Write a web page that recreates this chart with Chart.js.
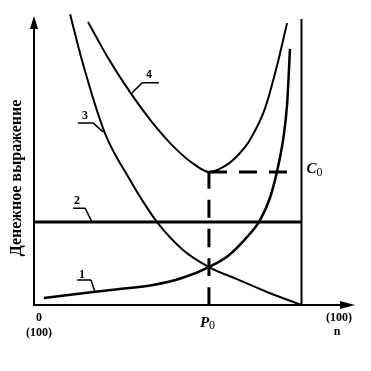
<!DOCTYPE html>
<html>
<head>
<meta charset="utf-8">
<script src="https://cdn.jsdelivr.net/npm/chart.js@4"></script>
<style>
  html, body { margin: 0; padding: 0; background: #fff; }
  #wrap { width: 371px; height: 371px; }
</style>
</head>
<body>
<div id="wrap"><canvas id="costChart" width="371" height="371"></canvas></div>
<script>
// curve values (x = quantity 0..100, y = money)
const curve1X = [3.7, 22.1, 32.1, 44.5, 55.3, 65.4, 72.5, 79.6, 84.5, 88.2, 90.8, 93.1, 94.6, 95.7];
const curve1Y = [2.4, 4.5, 5.5, 6.9, 9.3, 13.1, 16.9, 23.4, 29.3, 36.9, 45.9, 56.9, 69.0, 88.3];

const curve2X = [0, 100];
const curve2Y = [28.6, 28.6];

const curve3X = [13.5, 17.9, 26.5, 35.9, 40.4, 46.0, 55.7, 65.4, 75.9, 87.1, 100];
const curve3Y = [100.3, 84.5, 59.3, 43.1, 36.2, 28.6, 19.0, 13.1, 8.9, 4.5, 0];

const curve4X = [20.2, 27.7, 35.9, 44.1, 53.5, 60.2, 65.4, 72.5, 77.0, 80.7, 86.4, 91.2, 94.6];
const curve4Y = [97.6, 85.2, 73.4, 63.1, 53.4, 48.3, 45.9, 48.6, 52.4, 56.9, 67.9, 83.8, 97.2];

const limitX = 100;     // vertical line at full capacity
const limitTop = 98.6;
const p0 = 65.4;        // optimum quantity
const c0 = 45.9;        // minimal cost
const dashEndX = 97.6;

const yTitle = 'Денежное выражение';

const toPoints = (xs, ys) => xs.map((x, i) => ({ x: x, y: ys[i] }));

const lineStyle = (width) => ({
  showLine: true,
  borderColor: '#000',
  borderWidth: width,
  pointRadius: 0,
  fill: false,
  clip: false,
  cubicInterpolationMode: 'monotone'
});

// axes, arrows, labels
const schemePlugin = {
  id: 'scheme',
  afterDraw(chart) {
    const c = chart.ctx;
    const xs = chart.scales.x, ys = chart.scales.y;
    const a = chart.chartArea;
    const px = v => xs.getPixelForValue(v);
    const py = v => ys.getPixelForValue(v);
    c.save();
    c.strokeStyle = '#000';
    c.fillStyle = '#000';
    c.lineWidth = 2;
    // y axis
    c.beginPath();
    c.moveTo(a.left, a.bottom + 1);
    c.lineTo(a.left, a.top + 8);
    c.stroke();
    c.beginPath();
    c.moveTo(a.left, a.top + 1);
    c.lineTo(a.left - 4, a.top + 14);
    c.lineTo(a.left + 4, a.top + 14);
    c.closePath();
    c.fill();
    // x axis
    c.beginPath();
    c.moveTo(a.left - 1, a.bottom);
    c.lineTo(a.right - 8, a.bottom);
    c.stroke();
    c.beginPath();
    c.moveTo(a.right, a.bottom);
    c.lineTo(a.right - 15, a.bottom - 4);
    c.lineTo(a.right - 15, a.bottom + 4);
    c.closePath();
    c.fill();

    // leader lines for curve numbers
    const leaders = [
      { t: '1', tx: 17.9, ty: 10.3, u0: 16.1, u1: 21.3, uy: 8.6, ex: 22.8, ey: 4.5, from: 1, font: 'bold 12px "Liberation Serif"' },
      { t: '2', tx: 16.1, ty: 35.9, u0: 14.6, u1: 19.1, uy: 33.4, ex: 21.7, ey: 28.6, from: 1, font: 'bold 12px "Liberation Serif"' },
      { t: '3', tx: 19.1, ty: 65.2, u0: 16.4, u1: 22.1, uy: 62.8, ex: 25.8, ey: 59.7, from: 1, font: 'bold 12px "Liberation Serif"' },
      { t: '4', tx: 43.0, ty: 79.3, u0: 40.4, u1: 46.7, uy: 76.6, ex: 36.6, ey: 73.1, from: 0, font: 'bold 10px "Liberation Sans"' }
    ];
    c.lineWidth = 1.5;
    c.textAlign = 'center';
    c.textBaseline = 'middle';
    leaders.forEach(l => {
      c.beginPath();
      c.moveTo(px(l.u0), py(l.uy));
      c.lineTo(px(l.u1), py(l.uy));
      c.moveTo(px(l.from ? l.u1 : l.u0), py(l.uy));
      c.lineTo(px(l.ex), py(l.ey));
      c.stroke();
      c.font = l.font;
      c.fillText(l.t, px(l.tx), py(l.ty));
    });

    // tick texts
    c.font = 'bold 12px "Liberation Serif"';
    c.fillText('0', a.left + 5, a.bottom + 13);
    c.fillText('(100)', a.left + 5, a.bottom + 28);
    c.fillText('(100)', a.right - 16, a.bottom + 13);
    c.fillText('n', a.right - 18, a.bottom + 27);

    // P0 and C0
    c.textAlign = 'left';
    c.font = 'bold italic 15px "Liberation Serif"';
    c.fillText('P', px(p0) - 9, a.bottom + 18);
    c.font = '12px "Liberation Serif"';
    c.fillText('0', px(p0) + 0, a.bottom + 21);
    c.font = 'bold italic 15px "Liberation Serif"';
    c.fillText('C', px(limitX) + 5, py(c0) - 3);
    c.font = '12px "Liberation Serif"';
    c.fillText('0', px(limitX) + 15, py(c0) + 1);

    // y title
    c.translate(17, (a.top + a.bottom) / 2 + 18);
    c.rotate(-Math.PI / 2);
    c.textAlign = 'center';
    c.font = 'bold 16px "Liberation Serif"';
    c.fillText(yTitle, 0, 0);
    c.restore();
  }
};

const ctx = document.getElementById('costChart').getContext('2d');
const costChart = new Chart(ctx, {
  type: 'scatter',
  data: {
    datasets: [
      { label: '1', data: toPoints(curve1X, curve1Y), ...lineStyle(2.5) },
      { label: '2', data: toPoints(curve2X, curve2Y), ...lineStyle(3) },
      { label: '3', data: toPoints(curve3X, curve3Y), ...lineStyle(2) },
      { label: '4', data: toPoints(curve4X, curve4Y), ...lineStyle(2) },
      { label: 'limit', data: [{ x: limitX, y: 0 }, { x: limitX, y: limitTop }], ...lineStyle(2) },
      { label: 'p0', data: [{ x: p0, y: 0 }, { x: p0, y: c0 }], ...lineStyle(3), borderDash: [18, 11] },
      { label: 'c0', data: [{ x: p0, y: c0 }, { x: dashEndX, y: c0 }], ...lineStyle(3), borderDash: [18, 12] }
    ]
  },
  options: {
    responsive: false,
    animation: false,
    layout: { padding: { left: 34, right: 16, top: 15, bottom: 66 } },
    plugins: {
      legend: { display: false },
      tooltip: { enabled: false }
    },
    scales: {
      x: { type: 'linear', min: 0, max: 120, display: false },
      y: { type: 'linear', min: 0, max: 100, display: false }
    }
  },
  plugins: [schemePlugin]
});
</script>
</body>
</html>
